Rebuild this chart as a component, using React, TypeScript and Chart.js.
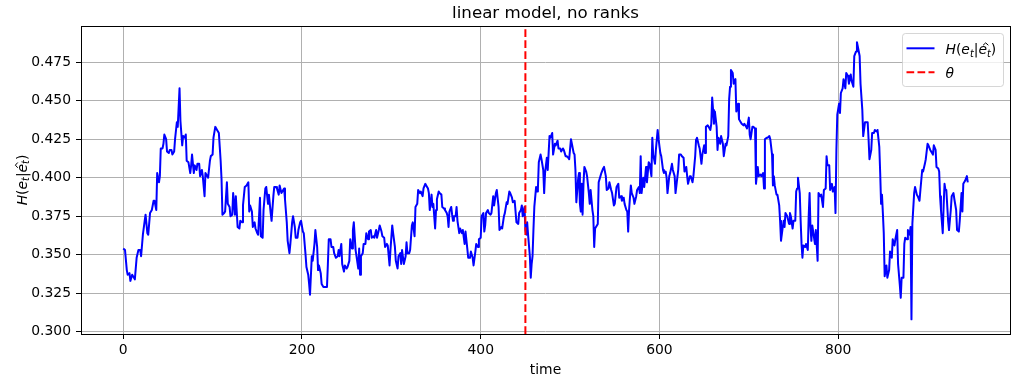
import { useEffect, useRef } from "react";
import { Chart, registerables } from "chart.js";

Chart.register(...registerables);

const TITLE = "linear model, no ranks";
const X_LABEL = "time";
const THETA = 450;
const X_TICKS = [0, 200, 400, 600, 800];
const Y_TICKS = [0.3, 0.325, 0.35, 0.375, 0.4, 0.425, 0.45, 0.475];
const X_LIMITS = [-47.25, 992.25];
const Y_LIMITS = [0.2985, 0.4985];

const TIME = [
  0, 2, 4, 5, 7, 8, 10, 12, 13, 15, 17, 19, 20, 22, 24, 25, 27, 28, 30, 32, 34, 35, 37, 38, 40, 41, 42, 44, 45, 46,
  48, 49, 51, 52, 54, 55, 57, 58, 60, 61, 63, 64, 66, 67, 69, 70, 71, 73, 75, 76, 77, 79, 80, 82, 83, 85, 86, 88, 89, 91,
  92, 94, 95, 97, 98, 100, 101,
  103, 105, 107, 108, 109, 110, 111, 113, 114, 116, 117, 119, 120, 122, 123, 125, 126, 128, 130, 131, 133, 134, 136, 138,
  140, 141, 142, 144, 145, 147, 148, 150, 151, 153, 154, 156, 157, 159, 160, 162, 163, 165, 166, 168, 169, 171, 172, 174,
  175, 177, 178, 180, 181, 183, 184, 186, 187, 189, 190, 192, 193, 195, 196, 198, 199, 201, 202, 204, 205, 207, 208, 209,
  211, 212, 214,
  215, 217, 218, 219, 221, 222, 224, 226, 228, 229, 230, 232, 233, 235, 236, 238, 240, 241, 242, 244, 245, 247, 248, 250,
  251, 253, 254, 256, 257, 258, 260, 261, 263, 264, 265, 266, 268, 269, 271, 272, 274, 275, 277, 278, 280, 281, 283, 284,
  286, 287, 289, 290, 292, 293, 295, 296, 298, 299, 301, 302, 304, 305, 307, 308, 310, 311, 312, 314, 316, 317, 318, 320,
  321, 323, 324, 326,
  327, 329, 330, 332, 333, 335, 336, 338, 339, 341, 342, 343, 345, 346, 347, 349, 350, 351, 353, 354, 356, 357, 359, 360,
  362, 363, 364, 365, 367, 368, 369, 370, 372, 373, 374, 376, 377, 379, 380, 382, 383, 385, 386, 388, 389, 391, 392, 394,
  395, 397, 398, 400, 401, 403, 404, 405, 406, 408, 409, 411, 412, 414, 415, 417, 418, 420, 421, 423, 424, 426, 427, 429,
  430, 432, 433, 435, 436,
  438, 440, 442, 443, 445, 446, 447, 449, 450, 451, 452, 453, 455, 456, 457, 458, 459, 460, 462, 463, 464, 465, 467, 468,
  470, 471, 472, 474, 475, 477, 478, 480, 481, 483, 484, 486, 487, 489, 490, 492, 493, 495, 496, 498, 499, 501, 502, 504,
  505, 506, 507, 509, 510, 511, 512, 513, 514, 515, 516, 518, 519, 521, 522, 523, 525, 526, 527, 528, 530, 531, 532, 534,
  535, 537, 538, 540, 541, 543, 544, 546, 547, 549,
  550, 552, 554, 555, 557, 558, 560, 561, 563, 564, 565, 566, 568, 569, 571, 572, 574, 575, 577, 578, 579, 580, 582, 583,
  585, 586, 588, 589, 591, 592, 593, 595, 596, 598, 599, 601, 602, 604, 605, 607, 608, 609, 611, 612, 614, 615, 617, 618,
  619, 621, 622, 624, 625, 627, 628, 630, 631, 632, 634, 635, 637, 638, 640, 641, 642, 644, 645, 647, 648, 650, 651, 652,
  654, 655, 657, 658, 659, 660, 661,
  662, 664, 665, 666, 668, 669, 671, 672, 674, 675, 677, 678, 679, 680, 682, 683, 685, 686, 688, 689, 691, 692, 694, 695,
  697, 698, 700, 701, 702, 704, 705, 707, 708, 710, 711, 713, 714, 716, 717, 718, 720, 721, 723, 724, 726, 727, 728, 729,
  731, 732, 734, 735, 736, 738, 739, 740, 741, 743, 745, 746, 747, 749, 750, 752, 753, 754, 755, 757, 758, 759, 760, 761,
  763, 764, 766, 767, 768, 769, 770, 771, 773,
  774, 775, 777, 778, 780, 781, 783, 784, 786, 787, 788, 790, 791, 793, 794, 796, 797, 798, 799, 801, 802, 803, 805, 806,
  808, 809, 811, 812, 814, 815, 817, 818, 820, 821, 822, 824, 825, 827, 828, 830, 831, 833, 834, 835, 837, 838, 840, 841,
  843, 844, 846, 847, 848, 849, 850, 851, 852, 854, 855, 857, 858, 860, 861, 863, 864, 866, 867, 869, 870,
  871, 873, 874, 875, 877, 878, 880, 881, 882, 883, 885, 886, 888, 889, 891, 892, 894, 895, 897, 898, 900, 901, 903, 904,
  906, 907, 909, 910, 912, 913, 914, 915, 917, 918, 919, 920, 921, 923, 924, 926, 927, 929, 930, 932, 933, 935, 936, 938,
  939, 940, 942, 943, 944, 945,
];

const H_VALUES = [
  0.354, 0.353, 0.34, 0.337, 0.338, 0.333, 0.337, 0.335, 0.334, 0.348, 0.353, 0.353, 0.349, 0.363, 0.372, 0.376, 0.364, 0.363, 0.377, 0.379, 0.385, 0.385, 0.379, 0.403, 0.397, 0.401, 0.419, 0.419, 0.422, 0.428,
  0.425, 0.417, 0.416, 0.418, 0.418, 0.415, 0.417, 0.425, 0.436, 0.433, 0.458, 0.437, 0.421, 0.427, 0.426, 0.428, 0.411, 0.41, 0.403, 0.408, 0.415, 0.403, 0.408, 0.405, 0.409, 0.409, 0.401, 0.405, 0.401, 0.388,
  0.403, 0.401, 0.4, 0.411, 0.414, 0.415, 0.426,
  0.433, 0.431, 0.429, 0.42, 0.411, 0.399, 0.376, 0.377, 0.378, 0.397, 0.383, 0.381, 0.375, 0.376, 0.39, 0.376, 0.388, 0.368, 0.367, 0.372, 0.371, 0.382, 0.394, 0.395,
  0.397, 0.378, 0.382, 0.378, 0.368, 0.371, 0.367, 0.364, 0.363, 0.387, 0.362, 0.361, 0.379, 0.393, 0.394, 0.383, 0.389, 0.377, 0.372, 0.388, 0.394, 0.394, 0.393, 0.389,
  0.395, 0.39, 0.391, 0.393, 0.386, 0.371, 0.359, 0.351, 0.357, 0.371, 0.375, 0.368, 0.361, 0.361, 0.366, 0.371, 0.372, 0.365, 0.364, 0.35, 0.342, 0.337, 0.331, 0.324,
  0.349, 0.346, 0.357,
  0.366, 0.355, 0.34, 0.343, 0.338, 0.331, 0.329, 0.329, 0.329, 0.344, 0.36, 0.36, 0.355, 0.355, 0.351, 0.348, 0.349, 0.353, 0.349, 0.357, 0.344, 0.339, 0.343, 0.341,
  0.342, 0.346, 0.36, 0.354, 0.366, 0.371, 0.353, 0.349, 0.341, 0.354, 0.337, 0.349, 0.351, 0.357, 0.357, 0.364, 0.36, 0.365, 0.366, 0.361, 0.362, 0.361, 0.366, 0.361,
  0.366, 0.369, 0.365, 0.362, 0.361, 0.355, 0.357, 0.356, 0.343, 0.353, 0.369, 0.364, 0.355, 0.346, 0.341, 0.349, 0.351, 0.344, 0.353, 0.344, 0.349, 0.358, 0.351, 0.351,
  0.353, 0.369, 0.371, 0.362,
  0.381, 0.383, 0.392, 0.39, 0.391, 0.388, 0.393, 0.396, 0.395, 0.393, 0.39, 0.379, 0.389, 0.381, 0.383, 0.367, 0.379, 0.386, 0.391, 0.39, 0.389, 0.381, 0.38, 0.379,
  0.377, 0.375, 0.368, 0.378, 0.381, 0.376, 0.372, 0.375, 0.375, 0.381, 0.372, 0.364, 0.367, 0.364, 0.366, 0.357, 0.365, 0.354, 0.348, 0.348, 0.352, 0.348, 0.343, 0.352,
  0.357, 0.355, 0.36, 0.361, 0.375, 0.377, 0.365, 0.369, 0.377, 0.379, 0.377, 0.376, 0.377, 0.388, 0.382, 0.39, 0.392, 0.381, 0.366, 0.368, 0.367, 0.375, 0.377, 0.384,
  0.383, 0.391, 0.39, 0.387, 0.384,
  0.385, 0.371, 0.37, 0.377, 0.379, 0.382, 0.375, 0.381, 0.366, 0.363, 0.371, 0.363, 0.349, 0.335, 0.344, 0.349, 0.366, 0.381, 0.394, 0.391, 0.393, 0.41, 0.415, 0.412,
  0.405, 0.39, 0.403, 0.413, 0.405, 0.427, 0.426, 0.429, 0.415, 0.422, 0.421, 0.424, 0.419, 0.419, 0.417, 0.419, 0.418, 0.414, 0.414, 0.413, 0.412, 0.425, 0.422, 0.416,
  0.415, 0.405, 0.384, 0.399, 0.403, 0.383, 0.378, 0.396, 0.376, 0.396, 0.407, 0.404, 0.401, 0.39, 0.383, 0.392, 0.379, 0.375, 0.355, 0.367, 0.369, 0.37, 0.397, 0.401,
  0.403, 0.406, 0.407, 0.401, 0.392, 0.393, 0.397, 0.392, 0.39, 0.382,
  0.383, 0.394, 0.396, 0.387, 0.388, 0.385, 0.387, 0.383, 0.379, 0.378, 0.365, 0.379, 0.395, 0.39, 0.387, 0.383, 0.388, 0.392, 0.394, 0.39, 0.414, 0.39, 0.4, 0.394,
  0.407, 0.397, 0.41, 0.409, 0.401, 0.426, 0.415, 0.409, 0.418, 0.431, 0.425, 0.416, 0.414, 0.405, 0.403, 0.404, 0.4, 0.39, 0.401, 0.403, 0.409, 0.405, 0.401, 0.39,
  0.395, 0.405, 0.415, 0.415, 0.414, 0.413, 0.404, 0.407, 0.401, 0.396, 0.401, 0.401, 0.397, 0.401, 0.414, 0.425, 0.426, 0.421, 0.419, 0.409, 0.415, 0.421, 0.416, 0.433,
  0.434, 0.433, 0.431, 0.435, 0.452, 0.444, 0.435,
  0.443, 0.433, 0.418, 0.426, 0.422, 0.427, 0.422, 0.414, 0.422, 0.421, 0.427, 0.451, 0.459, 0.47, 0.468, 0.461, 0.464, 0.443, 0.448, 0.438, 0.436, 0.435, 0.434, 0.435,
  0.433, 0.432, 0.439, 0.428, 0.425, 0.433, 0.433, 0.432, 0.396, 0.407, 0.401, 0.402, 0.401, 0.403, 0.393, 0.425, 0.426, 0.426, 0.427, 0.425, 0.415, 0.395, 0.401, 0.395,
  0.389, 0.389, 0.382, 0.372, 0.359, 0.368, 0.372, 0.368, 0.377, 0.375, 0.37, 0.377, 0.375, 0.367, 0.372, 0.372, 0.391, 0.393, 0.4, 0.39, 0.372, 0.357, 0.348, 0.356,
  0.355, 0.357, 0.353, 0.375, 0.39, 0.368, 0.359, 0.369, 0.361,
  0.357, 0.366, 0.346, 0.39, 0.388, 0.389, 0.381, 0.392, 0.393, 0.414, 0.408, 0.408, 0.392, 0.396, 0.391, 0.394, 0.377, 0.418, 0.441, 0.448, 0.442, 0.455, 0.458, 0.464,
  0.458, 0.468, 0.466, 0.461, 0.467, 0.463, 0.459, 0.479, 0.482, 0.488, 0.485, 0.479, 0.461, 0.444, 0.427, 0.436, 0.436, 0.436, 0.425, 0.412, 0.418, 0.429, 0.429, 0.431,
  0.43, 0.431, 0.42, 0.403, 0.383, 0.389, 0.377, 0.364, 0.336, 0.343, 0.335, 0.34, 0.352, 0.348, 0.36, 0.356, 0.36, 0.366, 0.344, 0.33, 0.322,
  0.335, 0.335, 0.357, 0.361, 0.36, 0.366, 0.363, 0.368, 0.308, 0.37, 0.39, 0.394, 0.389, 0.388, 0.385, 0.392, 0.405, 0.404, 0.409, 0.412, 0.422, 0.421, 0.418, 0.417,
  0.415, 0.421, 0.418, 0.407, 0.406, 0.404, 0.388, 0.379, 0.364, 0.382, 0.396, 0.392, 0.392, 0.372, 0.366, 0.379, 0.388, 0.39, 0.386, 0.379, 0.366, 0.365, 0.372, 0.39,
  0.378, 0.396, 0.398, 0.398, 0.401, 0.397,
];

const FAMILY = "'DejaVu Sans'";
const TICK_SIZE = 13.9;

type Seg = { text: string; italic?: boolean; sub?: boolean; hat?: boolean };

const H_SEGS: Seg[] = [
  { text: "H", italic: true },
  { text: "(" },
  { text: "e", italic: true },
  { text: "t", italic: true, sub: true },
  { text: "|" },
  { text: "e", italic: true, hat: true },
  { text: "t", italic: true, sub: true, hat: true },
  { text: ")" },
];
const THETA_SEGS: Seg[] = [{ text: "θ", italic: true }];

function segFont(s: Seg, size: number) {
  const sz = s.sub ? size * 0.7 : size;
  return `${s.italic ? "italic " : ""}${sz}px ${FAMILY}`;
}

function measureMath(ctx: CanvasRenderingContext2D, segs: Seg[], size: number) {
  let w = 0;
  for (const s of segs) {
    ctx.font = segFont(s, size);
    w += ctx.measureText(s.text).width;
  }
  return w;
}

function drawMath(ctx: CanvasRenderingContext2D, segs: Seg[], x: number, y: number, size: number) {
  let cx = x;
  let h0 = Infinity;
  let h1 = -Infinity;
  ctx.textAlign = "left";
  ctx.textBaseline = "alphabetic";
  for (const s of segs) {
    ctx.font = segFont(s, size);
    const w = ctx.measureText(s.text).width;
    ctx.fillText(s.text, cx, y + (s.sub ? size * 0.18 : 0));
    if (s.hat) {
      h0 = Math.min(h0, cx);
      h1 = Math.max(h1, cx + w);
    }
    cx += w;
  }
  if (h1 > h0) {
    const mid = (h0 + h1) / 2 + size * 0.08;
    const top = y - size * 0.8;
    ctx.beginPath();
    ctx.moveTo(mid - size * 0.19, top + size * 0.17);
    ctx.lineTo(mid, top);
    ctx.lineTo(mid + size * 0.19, top + size * 0.17);
    ctx.lineWidth = 1;
    ctx.strokeStyle = ctx.fillStyle as string;
    ctx.stroke();
  }
}

const decorPlugin = {
  id: "decor",
  afterDatasetsDraw(chart: any) {
    const { ctx, chartArea: a } = chart;
    ctx.save();
    ctx.strokeStyle = "#000000";
    ctx.lineWidth = 1;
    ctx.strokeRect(a.left + 0.5, a.top + 0.5, a.right - a.left, a.bottom - a.top);
    ctx.restore();
  },
  afterDraw(chart: any) {
    const { ctx, chartArea: a } = chart;
    ctx.save();
    ctx.fillStyle = "#000000";
    // title
    ctx.font = `16.67px ${FAMILY}`;
    ctx.textAlign = "center";
    ctx.textBaseline = "alphabetic";
    ctx.fillText(TITLE, (a.left + a.right) / 2, a.top - 8.3);
    // x label
    ctx.font = `${TICK_SIZE}px ${FAMILY}`;
    ctx.fillText(X_LABEL, (a.left + a.right) / 2, 374);
    // y label
    const w = measureMath(ctx, H_SEGS, TICK_SIZE);
    ctx.save();
    ctx.translate(26.5, (a.top + a.bottom) / 2);
    ctx.rotate(-Math.PI / 2);
    ctx.fillStyle = "#000000";
    drawMath(ctx, H_SEGS, -w / 2, 0, TICK_SIZE);
    ctx.restore();
    // legend
    const bw = 101;
    const bh = 53;
    const bx = a.right - 7 - bw;
    const by = a.top + 7;
    ctx.beginPath();
    ctx.roundRect(bx + 0.5, by + 0.5, bw, bh, 3);
    ctx.fillStyle = "rgba(255,255,255,0.8)";
    ctx.fill();
    ctx.strokeStyle = "rgba(204,204,204,0.8)";
    ctx.lineWidth = 1;
    ctx.stroke();
    const hx0 = bx + 4.5;
    const hx1 = hx0 + 28;
    const tx = hx1 + 11;
    const r1 = by + 15.3;
    const r2 = by + 39.3;
    ctx.beginPath();
    ctx.moveTo(hx0, r1);
    ctx.lineTo(hx1, r1);
    ctx.strokeStyle = "#0000ff";
    ctx.lineWidth = 2;
    ctx.stroke();
    ctx.beginPath();
    ctx.setLineDash([7.7, 3.3]);
    ctx.moveTo(hx0, r2);
    ctx.lineTo(hx1, r2);
    ctx.strokeStyle = "#ff0000";
    ctx.stroke();
    ctx.setLineDash([]);
    ctx.fillStyle = "#000000";
    drawMath(ctx, H_SEGS, tx, r1 + 5.7, TICK_SIZE);
    drawMath(ctx, THETA_SEGS, tx, r2 + 5.2, TICK_SIZE);
    ctx.restore();
  },
};

export default function App() {
  const canvasRef = useRef<HTMLCanvasElement | null>(null);

  useEffect(() => {
    document.body.style.margin = "0";
    const canvas = canvasRef.current;
    if (!canvas) return;
    const seriesData = TIME.map((t, i) => ({ x: t, y: H_VALUES[i] }));
    const chart = new Chart(canvas, {
      type: "line",
      data: {
        datasets: [
          {
            label: "theta",
            data: [
              { x: THETA, y: Y_LIMITS[0] },
              { x: THETA, y: Y_LIMITS[1] },
            ],
            borderColor: "#ff0000",
            borderWidth: 2,
            borderDash: [7.7, 3.3],
            pointRadius: 0,
            order: 0,
          },
          {
            label: "H",
            data: seriesData,
            borderColor: "#0000ff",
            borderWidth: 2,
            pointRadius: 0,
            tension: 0,
            borderJoinStyle: "round",
            order: 1,
          },
        ],
      },
      options: {
        animation: false,
        responsive: false,
        events: [],
        layout: { padding: { left: 0, right: 9, top: 26, bottom: 0 } },
        plugins: {
          legend: { display: false },
          tooltip: { enabled: false },
          title: { display: false },
        },
        scales: {
          x: {
            type: "linear",
            min: X_LIMITS[0],
            max: X_LIMITS[1],
            afterBuildTicks: (s: any) => {
              s.ticks = X_TICKS.map((v) => ({ value: v }));
            },
            afterFit: (s: any) => {
              s.height = 44;
            },
            ticks: {
              color: "#000000",
              font: { family: FAMILY, size: TICK_SIZE },
              padding: 3,
              maxRotation: 0,
              autoSkip: false,
              callback: (v: any) => String(v),
            },
            grid: { color: "#b0b0b0", lineWidth: 1, tickColor: "#000000", tickLength: 5 },
            border: { display: false },
          },
          y: {
            type: "linear",
            min: Y_LIMITS[0],
            max: Y_LIMITS[1],
            afterBuildTicks: (s: any) => {
              s.ticks = Y_TICKS.map((v) => ({ value: v }));
            },
            afterFit: (s: any) => {
              s.width = 81;
            },
            ticks: {
              color: "#000000",
              font: { family: FAMILY, size: TICK_SIZE },
              padding: 5,
              autoSkip: false,
              callback: (v: any) => Number(v).toFixed(3),
            },
            grid: { color: "#b0b0b0", lineWidth: 1, tickColor: "#000000", tickLength: 5 },
            border: { display: false },
          },
        },
      },
      plugins: [decorPlugin],
    } as any);
    return () => chart.destroy();
  }, []);

  return (
    <div style={{ width: 1019, height: 378 }}>
      <canvas ref={canvasRef} width={1019} height={378} style={{ display: "block" }} />
    </div>
  );
}
